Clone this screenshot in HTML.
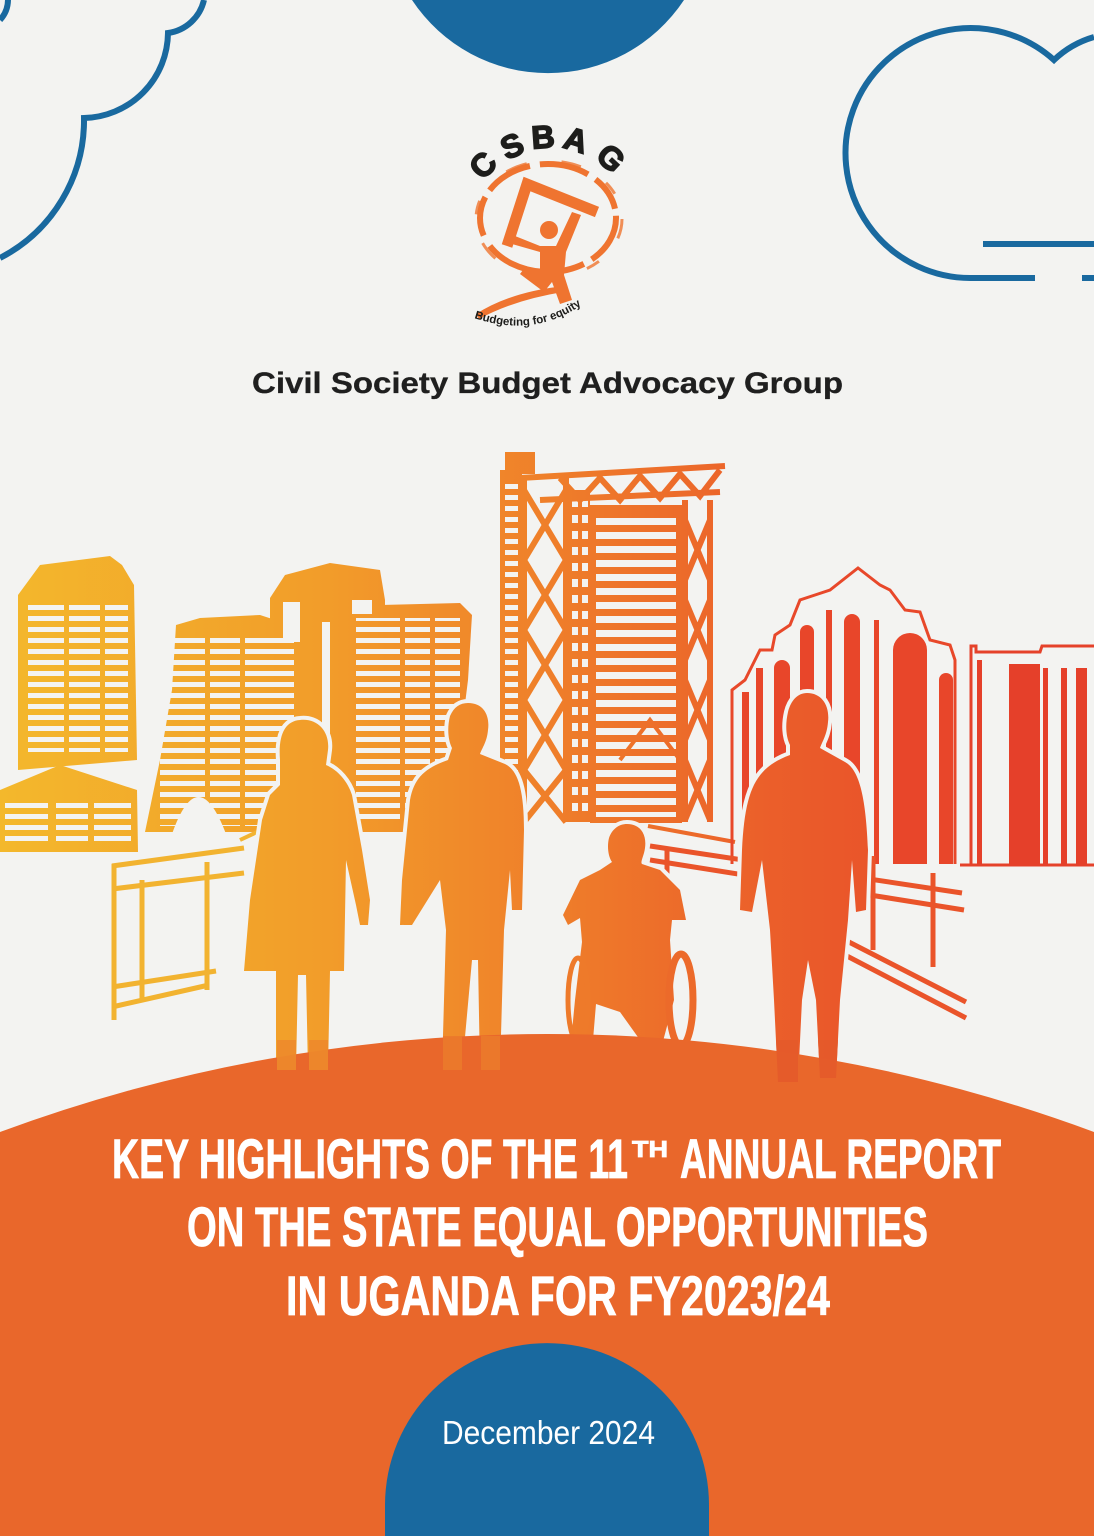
<!DOCTYPE html>
<html>
<head>
<meta charset="utf-8">
<style>
  html,body{margin:0;padding:0;background:#f3f3f1;width:1094px;height:1536px;overflow:hidden;}
  svg{display:block;}
  .b{font-family:"Liberation Sans",Arial,sans-serif;font-weight:bold;}
  .r{font-family:"Liberation Sans",Arial,sans-serif;}
</style>
</head>
<body>
<svg width="1094" height="1536" viewBox="0 0 1094 1536" xmlns="http://www.w3.org/2000/svg">
  <defs>
    <linearGradient id="g" gradientUnits="userSpaceOnUse" x1="0" y1="0" x2="1094" y2="0">
      <stop offset="0" stop-color="#f3b82c"/>
      <stop offset="0.3" stop-color="#f29c2a"/>
      <stop offset="0.5" stop-color="#ef7f2a"/>
      <stop offset="0.7" stop-color="#eb5f2a"/>
      <stop offset="1" stop-color="#e53f29"/>
    </linearGradient>
    <pattern id="st" patternUnits="userSpaceOnUse" width="12" height="11">
      <rect x="0" y="0" width="12" height="5" fill="#f3f3f1"/>
    </pattern>
    <pattern id="st2" patternUnits="userSpaceOnUse" width="12" height="14">
      <rect x="0" y="0" width="12" height="7" fill="#f3f3f1"/>
    </pattern>
    <pattern id="dots" patternUnits="userSpaceOnUse" width="10" height="16">
      <rect x="2" y="3" width="6" height="8" fill="#f3f3f1"/>
    </pattern>
  </defs>

  <rect width="1094" height="1536" fill="#f3f3f1"/>

  <!-- Top blue half circle -->
  <path d="M 412,0 A 163 163 0 0 0 684,0 Z" fill="#19699f"/>

  <!-- Left cloud -->
  <path d="M 204,0 A 43 43 0 0 1 168,33 A 86 86 0 0 1 84,118 A 155 155 0 0 1 0,258" fill="none" stroke="#19699f" stroke-width="6"/>
  <path d="M 8,0 A 30 30 0 0 1 0,20" fill="none" stroke="#19699f" stroke-width="6"/>

  <!-- Right cloud -->
  <path d="M 1035,278 L 973,278 A 125 125 0 1 1 1054,60 A 97 97 0 0 1 1094,37" fill="none" stroke="#19699f" stroke-width="6"/>
  <line x1="983" y1="244" x2="1094" y2="244" stroke="#19699f" stroke-width="6"/>
  <line x1="1082" y1="278" x2="1094" y2="278" stroke="#19699f" stroke-width="6"/>

  <!-- Logo -->
  <g fill="#1d1d1b" stroke="#1d1d1b" stroke-width="1.6" class="b" font-size="32" text-anchor="middle">
    <text transform="translate(483,165) rotate(-47)" y="11">C</text>
    <text transform="translate(512,146) rotate(-24)" y="11">S</text>
    <text transform="translate(543,137) rotate(-4)" y="11">B</text>
    <text transform="translate(576,140) rotate(17)" y="11">A</text>
    <text transform="translate(611,158) rotate(43)" y="11">G</text>
  </g>
  <ellipse cx="548" cy="218" rx="68" ry="54" fill="none" stroke="#ef7430" stroke-width="6" stroke-dasharray="50 9 36 7 60 12 40 8 48 10"/>
  <ellipse cx="549" cy="219" rx="73" ry="58" fill="none" stroke="#ef7430" stroke-width="3" stroke-dasharray="20 30 14 40 22 35" opacity="0.8"/>
  <polyline points="507,246 527,184 597,212" fill="none" stroke="#ef7430" stroke-width="11"/>
  <circle cx="549" cy="230" r="9" fill="#ef7430"/>
  <path d="M 515,236 L 540,246 L 556,246 L 572,212 L 581,215 L 566,252 L 564,275 L 572,300 L 560,304 L 552,282 L 544,292 L 520,274 L 526,266 L 540,272 L 540,252 L 512,244 Z" fill="#ef7430"/>
  <path d="M 476,314 Q 510,292 564,286 L 563,292 Q 514,300 479,319 Z" fill="#ef7430"/>
  <path id="arcTxt" d="M 474,318 Q 545,342 600,290" fill="none"/>
  <text class="b" font-size="11.5" fill="#1d1d1b"><textPath href="#arcTxt">Budgeting for equity</textPath></text>

  <!-- Subtitle -->
  <text class="b" x="252" y="393" font-size="30" fill="#1f1f1f" stroke="#1f1f1f" stroke-width="0.3" textLength="591" lengthAdjust="spacingAndGlyphs">Civil Society Budget Advocacy Group</text>

  <!-- ============ CITY ============ -->
  <g fill="url(#g)">
    <polygon points="18,595 40,565 110,556 122,565 134,585 137,760 18,770"/>
    <polygon points="0,790 60,765 137,790 138,852 0,852"/>
    <polygon points="145,832 160,760 172,690 176,625 200,618 260,615 300,628 300,832"/>
    <polygon points="270,832 270,598 285,575 330,563 380,570 385,600 385,832"/>
    <polygon points="350,832 350,610 380,605 460,603 472,615 468,680 458,760 445,832"/>
    <rect x="500" y="470" width="22" height="352"/>
    <rect x="505" y="452" width="30" height="22"/>
    <rect x="568" y="490" width="22" height="332"/>
    <rect x="590" y="505" width="92" height="318"/>
  </g>
  <rect x="28" y="600" width="100" height="152" fill="url(#st)"/>
  <rect x="5" y="800" width="126" height="44" fill="url(#st)"/>
  <rect x="160" y="636" width="134" height="190" fill="url(#st)"/>
  <rect x="356" y="618" width="104" height="205" fill="url(#st)"/>
  <rect x="505" y="480" width="13" height="335" fill="url(#st)"/>
  <rect x="570" y="495" width="18" height="322" fill="url(#dots)"/>
  <rect x="596" y="512" width="80" height="305" fill="url(#st2)"/>
  <g fill="url(#g)">
    <rect x="64" y="598" width="5" height="156"/>
    <rect x="100" y="598" width="5" height="156"/>
    <rect x="48" y="798" width="8" height="50"/>
    <rect x="88" y="798" width="6" height="50"/>
    <rect x="205" y="630" width="5" height="200"/>
    <rect x="240" y="630" width="5" height="200"/>
    <rect x="400" y="615" width="5" height="210"/>
    <rect x="430" y="615" width="5" height="200"/>
  </g>
  <g fill="#f3f3f1">
    <path d="M 172,834 Q 198,760 226,834 Z"/>
    <rect x="283" y="602" width="17" height="40"/>
    <rect x="352" y="600" width="20" height="14"/>
    <rect x="322" y="622" width="8" height="210"/>
  </g>

  <!-- Building C lattice -->
  <g stroke="url(#g)" stroke-width="6" fill="none">
    <line x1="524" y1="478" x2="524" y2="822"/>
    <line x1="566" y1="478" x2="566" y2="822"/>
    <path d="M 524,490 L 566,560 M 566,490 L 524,560 M 524,560 L 566,630 M 566,560 L 524,630 M 524,630 L 566,700 M 566,630 L 524,700 M 524,700 L 566,770 M 566,700 L 524,770 M 524,770 L 566,822 M 566,770 L 524,822"/>
    <line x1="685" y1="500" x2="685" y2="822"/>
    <line x1="710" y1="500" x2="710" y2="822"/>
    <path d="M 685,520 L 710,580 M 710,520 L 685,580 M 685,600 L 710,660 M 710,600 L 685,660 M 685,680 L 710,740 M 710,680 L 685,740 M 685,760 L 710,820 M 710,760 L 685,820"/>
    <path d="M 520,478 L 725,466 M 540,500 L 720,492 M 560,478 L 580,500 L 600,478 L 620,500 L 640,476 L 660,498 L 680,474 L 700,496 L 720,470"/>
    <path d="M 620,760 L 650,720 L 680,760" stroke-width="4"/>
    <path d="M 648,826 L 735,842" stroke-width="4"/>
  </g>

  <!-- Building D (arched) -->
  <path d="M 732,864 L 732,690 L 745,680 L 760,650 L 772,650 L 775,635 L 790,625 L 800,600 L 815,595 L 830,590 L 858,568 L 880,585 L 890,590 L 905,610 L 920,612 L 930,640 L 950,645 L 955,660 L 955,864" fill="none" stroke="#e8482a" stroke-width="3"/>
  <g fill="#e8462a">
    <rect x="742" y="692" width="7" height="172"/>
    <rect x="756" y="668" width="7" height="196"/>
    <path d="M 774,864 L 774,668 A 8 8 0 0 1 790,668 L 790,864 Z"/>
    <path d="M 800,864 L 800,632 A 7 7 0 0 1 814,632 L 814,864 Z"/>
    <rect x="826" y="610" width="6" height="254"/>
    <path d="M 844,864 L 844,622 A 8 8 0 0 1 860,622 L 860,864 Z"/>
    <rect x="874" y="620" width="5" height="244"/>
    <path d="M 893,864 L 893,650 A 17 17 0 0 1 927,650 L 927,864 Z"/>
    <path d="M 939,864 L 939,680 A 7 7 0 0 1 953,680 L 953,864 Z"/>
  </g>
  <!-- Building E -->
  <path d="M 971,866 L 971,646 L 976,646 L 976,652 L 1040,652 L 1042,646 L 1094,646" fill="none" stroke="#e5422a" stroke-width="3"/>
  <line x1="960" y1="865" x2="1094" y2="865" stroke="#e5422a" stroke-width="3"/>
  <g fill="#e5402a">
    <rect x="977" y="660" width="5" height="206"/>
    <rect x="1009" y="664" width="31" height="202"/>
    <rect x="1043" y="668" width="5" height="198"/>
    <rect x="1061" y="668" width="6" height="198"/>
    <rect x="1076" y="668" width="11" height="198"/>
  </g>

  <!-- Left railing -->
  <g stroke="#f2b330" stroke-width="5" fill="none">
    <line x1="112" y1="866" x2="244" y2="848"/>
    <line x1="112" y1="889" x2="244" y2="873"/>
    <line x1="114" y1="864" x2="114" y2="1020"/>
    <line x1="142" y1="880" x2="142" y2="1000"/>
    <line x1="207" y1="862" x2="207" y2="990"/>
    <line x1="112" y1="987" x2="216" y2="971"/>
    <line x1="112" y1="1007" x2="209" y2="985"/>
    <line x1="240" y1="840" x2="270" y2="826" stroke-width="4"/>
  </g>
  <!-- Right railing -->
  <g stroke="#ea542a" stroke-width="5" fill="none">
    <line x1="650" y1="846" x2="962" y2="893"/>
    <line x1="650" y1="860" x2="964" y2="910"/>
    <line x1="845" y1="940" x2="966" y2="1002"/>
    <line x1="845" y1="955" x2="966" y2="1018"/>
    <line x1="667" y1="850" x2="667" y2="902"/>
    <line x1="873" y1="856" x2="873" y2="950"/>
    <line x1="933" y1="873" x2="933" y2="967"/>
  </g>

  <!-- People -->
  <g fill="url(#g)" stroke="#f3f3f1" stroke-width="8" paint-order="stroke" stroke-linejoin="round">
    <path d="M 300,720 C 318,718 330,732 328,750 L 326,765 C 338,770 348,782 352,795 L 362,850 L 370,900 L 368,925 L 360,925 L 356,905 L 346,860 L 344,971 L 330,971 L 328,1070 L 308,1070 L 306,975 L 298,975 L 296,1070 L 276,1070 L 276,971 L 244,971 L 250,900 L 262,820 L 270,795 L 280,785 L 280,760 C 278,735 285,721 300,720 Z"/>
    <path d="M 468,703 C 484,703 490,716 488,730 C 487,742 482,748 480,754 L 505,764 C 518,770 524,790 524,830 L 522,910 L 512,910 L 510,870 L 504,930 L 500,1070 L 480,1070 L 478,960 L 472,960 L 462,1070 L 442,1070 L 446,930 L 440,880 L 412,925 L 400,925 L 402,880 L 410,800 C 414,778 425,768 448,760 L 452,748 C 448,740 447,728 450,716 C 454,707 460,703 468,703 Z"/>
    <path d="M 627,824 C 640,824 647,834 645,848 C 644,856 640,862 642,864 L 660,870 L 680,890 L 686,920 L 672,920 L 670,940 L 674,1000 L 662,1045 L 640,1040 L 620,1012 L 596,1004 L 592,1052 L 570,1052 L 575,1000 L 582,942 L 580,918 L 568,925 L 563,915 L 580,880 L 600,870 L 612,862 C 608,856 607,846 609,838 C 612,829 619,824 627,824 Z"/>
    <path d="M 807,693 C 822,693 830,706 828,722 C 827,735 822,742 820,748 L 845,762 C 860,770 866,800 868,850 L 866,910 L 856,912 L 852,860 L 848,920 L 840,1000 L 836,1078 L 820,1078 L 816,1000 L 808,960 L 802,1000 L 798,1082 L 778,1082 L 774,1000 L 770,930 L 762,860 L 752,912 L 740,910 L 742,850 C 745,790 755,768 790,755 L 790,745 C 786,737 785,725 788,712 C 791,700 798,693 807,693 Z"/>
  </g>
  <line x1="404" y1="925" x2="393" y2="1072" stroke="#f3f3f1" stroke-width="3"/>
  <ellipse cx="681" cy="1000" rx="12" ry="46" fill="none" stroke="#ec6a2a" stroke-width="7"/>
  <ellipse cx="578" cy="1000" rx="10" ry="42" fill="none" stroke="#ee7a2a" stroke-width="5"/>

  <!-- Orange dome -->
  <path d="M 0,1132 A 1576 1576 0 0 1 1094,1132 L 1094,1536 L 0,1536 Z" fill="#e9672b"/>

  <!-- feet / legs visible on dome -->
  <g fill="#ee8a2c" opacity="0.9">
    <rect x="277" y="1040" width="19" height="30"/>
    <rect x="309" y="1040" width="19" height="30"/>
  </g>
  <g fill="#ec7a2b" opacity="0.9">
    <rect x="443" y="1036" width="19" height="34"/>
    <rect x="481" y="1036" width="19" height="34"/>
  </g>
  <g fill="#e55a2a" opacity="0.9">
    <path d="M 776,1040 L 798,1040 L 798,1082 L 778,1082 Z"/>
    <path d="M 818,1040 L 838,1040 L 836,1078 L 820,1078 Z"/>
  </g>

  <!-- Title -->
  <g class="b" fill="#ffffff" stroke="#ffffff" stroke-width="0.8">
    <text x="112" y="1178" font-size="56" textLength="516" lengthAdjust="spacingAndGlyphs">KEY HIGHLIGHTS OF THE 11</text>
    <text x="632" y="1157" font-size="23" textLength="36" lengthAdjust="spacingAndGlyphs">TH</text>
    <text x="680" y="1178" font-size="56" textLength="321" lengthAdjust="spacingAndGlyphs">ANNUAL REPORT</text>
    <text x="187" y="1246" font-size="56" textLength="741" lengthAdjust="spacingAndGlyphs">ON THE STATE EQUAL OPPORTUNITIES</text>
    <text x="286" y="1315" font-size="56" textLength="544" lengthAdjust="spacingAndGlyphs">IN UGANDA FOR FY2023/24</text>
  </g>

  <!-- Bottom blue arch -->
  <path d="M 385,1536 L 385,1505 A 162 162 0 0 1 709,1505 L 709,1536 Z" fill="#19699f"/>
  <text class="r" x="442" y="1444" font-size="33" fill="#ffffff" textLength="213" lengthAdjust="spacingAndGlyphs">December 2024</text>
</svg>
</body>
</html>
